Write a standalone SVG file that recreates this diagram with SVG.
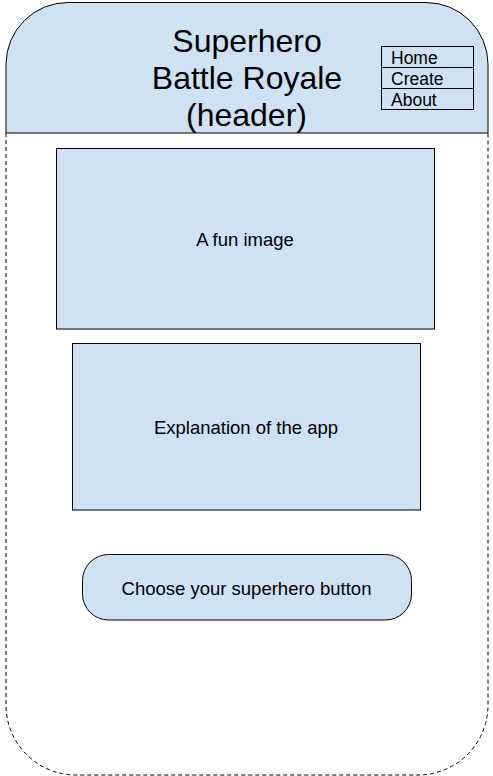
<svg xmlns="http://www.w3.org/2000/svg" width="493" height="776" viewBox="0 0 493 776">
  <style>
    .box { fill: #cfe2f3; stroke: #000000; stroke-width: 1; }
    .nav { fill: none; stroke: #000000; stroke-width: 1; }
    .t { font-family: "Liberation Sans", Arial, sans-serif; fill: #000000; }
    .title { font-size: 32px; text-anchor: middle; }
    .body { font-size: 18.5px; text-anchor: middle; }
    .menu { font-size: 17.5px; }
  </style>
  <rect x="0" y="0" width="493" height="776" fill="#ffffff"/>
  <g id="page">
    <path d="M6,133 L6,705 A70,70 0 0 0 76,775 L418,775 A70,70 0 0 0 488,705 L488,133" fill="none" stroke="#000000" stroke-width="1" stroke-dasharray="4,3"/>
  </g>
  <g id="header">
    <path class="box" d="M6,133 L6,64 A62,62 0 0 1 68,2.5 L426,2.5 A62,62 0 0 1 488,64 L488,133 Z"/>
    <text class="t title" x="247" y="52">Superhero</text>
    <text class="t title" x="247" y="89">Battle Royale</text>
    <text class="t title" x="246.5" y="126">(header)</text>
  </g>
  <g id="nav-menu">
    <rect class="nav" x="381.5" y="46.5" width="92" height="21"/>
    <rect class="nav" x="381.5" y="67.5" width="92" height="21"/>
    <rect class="nav" x="381.5" y="88.5" width="92" height="21"/>
    <text class="t menu" x="391" y="64">Home</text>
    <text class="t menu" x="391" y="85">Create</text>
    <text class="t menu" x="391" y="106">About</text>
  </g>
  <g id="image">
    <rect class="box" x="56.5" y="148.5" width="378" height="180.5"/>
    <text class="t body" x="245" y="246">A fun image</text>
  </g>
  <g id="explanation">
    <rect class="box" x="72.5" y="343.5" width="348" height="166.5"/>
    <text class="t body" x="246" y="434">Explanation of the app</text>
  </g>
  <g id="button">
    <rect class="box" x="82.5" y="554.5" width="329" height="65.5" rx="26" ry="26"/>
    <text class="t body" x="246.5" y="595">Choose your superhero button</text>
  </g>
  <g id="connectors"></g>
</svg>
